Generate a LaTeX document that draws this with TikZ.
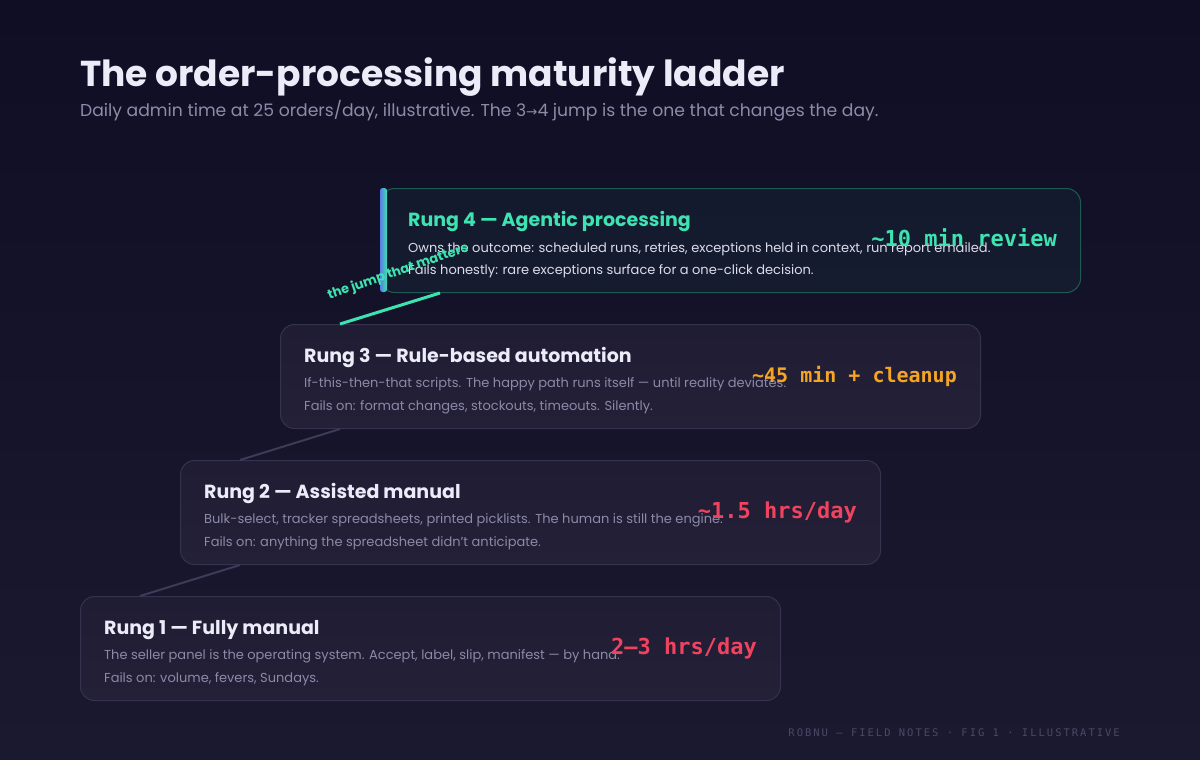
\documentclass[tikz,border=0pt]{standalone}
\usepackage{fontspec}
\setmainfont{Poppins}
\newfontfamily\monof{DejaVu Sans Mono}
\newfontfamily\footf[LetterSpace=19]{DejaVu Sans Mono}
\newfontfamily\symf{DejaVu Sans}
\definecolor{bgtop}{HTML}{0F0E24}
\definecolor{bgbot}{HTML}{1B1930}
\definecolor{cardtop}{HTML}{1F1C34}
\definecolor{cardbot}{HTML}{232038}
\definecolor{cardline}{HTML}{35324F}
\definecolor{card4top}{HTML}{141A2E}
\definecolor{card4bot}{HTML}{161C30}
\definecolor{card4line}{HTML}{1F5A52}
\definecolor{teal}{HTML}{3DE3B0}
\definecolor{accblue}{HTML}{5B7CE6}
\definecolor{amber}{HTML}{F5A524}
\definecolor{rose}{HTML}{F0435F}
\definecolor{titlecol}{HTML}{ECEBF8}
\definecolor{subcol}{HTML}{8E8AAA}
\definecolor{bodycol}{HTML}{8C89A9}
\definecolor{body4col}{HTML}{DCDCEA}
\definecolor{footcol}{HTML}{4B4867}
\definecolor{linkcol}{HTML}{3E3B58}
\tikzset{
  card/.style={rectangle, rounded corners=14pt, draw=cardline, line width=1pt,
    top color=cardtop, bottom color=cardbot, anchor=north west,
    minimum width=700pt, minimum height=104pt, inner sep=0pt},
  card4/.style={card, draw=card4line, top color=card4top, bottom color=card4bot},
  rungtitle/.style={anchor=base west, inner sep=0pt, text=titlecol, font=\fontsize{19}{22}\selectfont\bfseries},
  body/.style={anchor=base west, inner sep=0pt, text=bodycol, font=\fontsize{13}{16}\selectfont},
  val/.style={anchor=base east, inner sep=0pt, font=\fontsize{22}{24}\selectfont\monof\bfseries},
  link/.style={draw=linkcol, line width=2pt},
  jump/.style={draw=teal, line width=3pt},
}
\begin{document}
\begin{tikzpicture}[x=1pt,y=-1pt]
\shade[top color=bgtop,bottom color=bgbot] (0,0) rectangle (1200,760);
\useasboundingbox (0,0) rectangle (1200,760);

% header
\node[anchor=base west, inner sep=0pt, text=titlecol, font=\fontsize{36}{40}\selectfont\bfseries] (title) at (80,86) {The order-processing maturity ladder};
\node[anchor=base west, inner sep=0pt, text=subcol, font=\fontsize{17.2}{20}\selectfont] (sub) at (80,116) {Daily admin time at 25 orders/day, illustrative. The 3{\symf\fontsize{13.5}{16}\selectfont→}4 jump is the one that changes the day.};

% cards
\node[card4] (r4) at (380,188) {};
\node[card] (r3) at (280,324) {};
\node[card] (r2) at (180,460) {};
\node[card] (r1) at (80,596) {};

% accent bar on rung 4
\fill[left color=accblue, right color=teal, rounded corners=2.5pt] (380,188) rectangle (387,292);

% connectors
\coordinate (l4a) at ([xshift=60pt]r4.south west);
\coordinate (l3b) at ([xshift=60pt]r3.north west);
\coordinate (l3a) at ([xshift=60pt]r3.south west);
\coordinate (l2b) at ([xshift=60pt]r2.north west);
\coordinate (l2a) at ([xshift=60pt]r2.south west);
\coordinate (l1b) at ([xshift=60pt]r1.north west);
\draw[jump] (l4a) -- (l3b);
\draw[link] (l3a) -- (l2b);
\draw[link] (l2a) -- (l1b);

% rung 4 text
\node[rungtitle, text=teal] (t4) at ([xshift=28pt,yshift=-38pt]r4.north west) {Rung 4 — Agentic processing};
\node[body, text=body4col] (b4a) at ([xshift=28pt,yshift=-64pt]r4.north west) {Owns the outcome: scheduled runs, retries, exceptions held in context, run report emailed.};
\node[body, text=body4col] (b4b) at ([xshift=28pt,yshift=-86pt]r4.north west) {Fails honestly: rare exceptions surface for a one-click decision.};
\node[val, text=teal] (v4) at ([xshift=-24pt,yshift=-58pt]r4.north east) {\textasciitilde10 min review};

% rung 3 text
\node[rungtitle] (t3) at ([xshift=24pt,yshift=-38pt]r3.north west) {Rung 3 — Rule-based automation};
\node[body] (b3a) at ([xshift=24pt,yshift=-63pt]r3.north west) {If-this-then-that scripts. The happy path runs itself — until reality deviates.};
\node[body] (b3b) at ([xshift=24pt,yshift=-86pt]r3.north west) {Fails on: format changes, stockouts, timeouts. Silently.};
\node[val, text=amber, font=\fontsize{20}{24}\selectfont\monof\bfseries] (v3) at ([xshift=-24pt,yshift=-58pt]r3.north east) {\textasciitilde45 min + cleanup};

% rung 2 text
\node[rungtitle] (t2) at ([xshift=24pt,yshift=-38pt]r2.north west) {Rung 2 — Assisted manual};
\node[body] (b2a) at ([xshift=24pt,yshift=-63pt]r2.north west) {Bulk-select, tracker spreadsheets, printed picklists. The human is still the engine.};
\node[body] (b2b) at ([xshift=24pt,yshift=-86pt]r2.north west) {Fails on: anything the spreadsheet didn't anticipate.};
\node[val, text=rose] (v2) at ([xshift=-24pt,yshift=-58pt]r2.north east) {\textasciitilde1.5 hrs/day};

% rung 1 text
\node[rungtitle] (t1) at ([xshift=24pt,yshift=-38pt]r1.north west) {Rung 1 — Fully manual};
\node[body] (b1a) at ([xshift=24pt,yshift=-63pt]r1.north west) {The seller panel is the operating system. Accept, label, slip, manifest — by hand.};
\node[body] (b1b) at ([xshift=24pt,yshift=-86pt]r1.north west) {Fails on: volume, fevers, Sundays.};
\node[val, text=rose] (v1) at ([xshift=-24pt,yshift=-58pt]r1.north east) {2–3 hrs/day};

% jump label
\node[inner sep=0pt, rotate=19, text=teal, font=\fontsize{13}{15}\selectfont\bfseries] (jl) at (398,272) {the jump that matters};

% footer
\node[anchor=base east, inner sep=0pt, text=footcol, font=\fontsize{10.5}{12}\selectfont\footf] (foot) at (1120,736) {ROBNU — FIELD NOTES · FIG 1 · ILLUSTRATIVE};
\end{tikzpicture}
\end{document}
